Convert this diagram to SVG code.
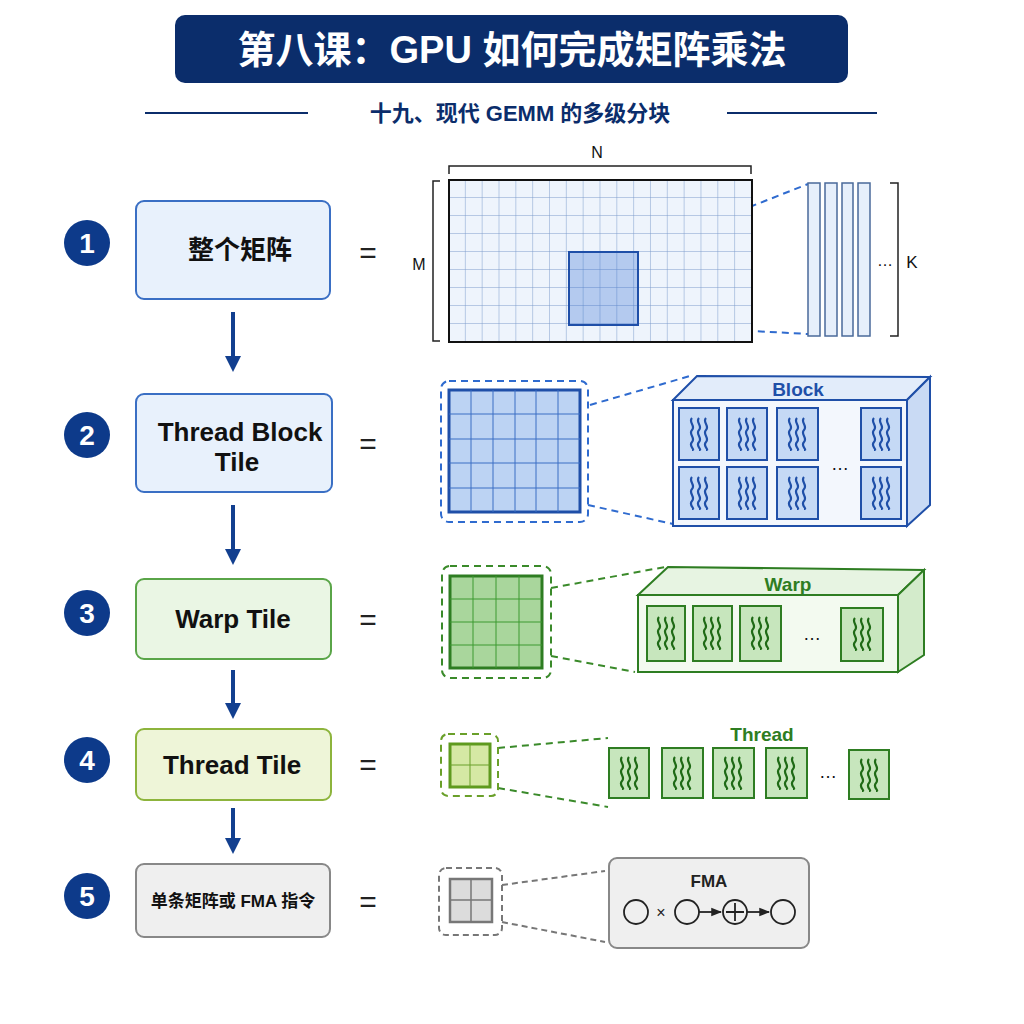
<svg xmlns="http://www.w3.org/2000/svg" width="1024" height="1024" viewBox="0 0 1024 1024">
<defs>
<style>
text{font-family:"Liberation Sans","Noto Sans CJK SC",sans-serif}
.num{fill:#0d3a8a}
.numt{fill:#fff;font-size:28px;font-weight:bold;text-anchor:middle}
.eq{font-size:30px;fill:#222;text-anchor:middle}
.lab{font-size:26px;font-weight:bold;fill:#111;text-anchor:middle}
.arr{stroke:#123f8f;stroke-width:4;fill:none}
.bd{stroke:#2f6bcf;stroke-width:2;stroke-dasharray:7 5;fill:none}
.gd{stroke:#3a8a2a;stroke-width:2;stroke-dasharray:7 5;fill:none}
.yd{stroke:#6aa02a;stroke-width:2;stroke-dasharray:7 5;fill:none}
.kd{stroke:#777;stroke-width:2;stroke-dasharray:6 4;fill:none}
.bc{fill:#c5d9f5;stroke:#1f4fa8;stroke-width:2}
.gc{fill:#c7e6bd;stroke:#2e7d22;stroke-width:2}
.bw{stroke:#1f4fa8;stroke-width:2;fill:none}
.gw{stroke:#1f6a16;stroke-width:2;fill:none}
</style>
<marker id="ah" viewBox="0 0 10 10" refX="5" refY="5" markerWidth="4" markerHeight="4" orient="auto"><path d="M0,0L10,5L0,10z" fill="#123f8f"/></marker>
<marker id="ak" viewBox="0 0 10 10" refX="9" refY="5" markerWidth="6" markerHeight="6" orient="auto"><path d="M0,1L10,5L0,9z" fill="#222"/></marker>
<symbol id="wv" viewBox="0 0 30 40"><path d="M8,4c-4,4 4,8 0,12s4,8 0,12s4,8 0,8M15,4c-4,4 4,8 0,12s4,8 0,12s4,8 0,8M22,4c-4,4 4,8 0,12s4,8 0,12s4,8 0,8" fill="none" stroke="currentColor" stroke-width="2.2"/></symbol>
<pattern id="g18" x="449" y="180" width="16.83" height="18" patternUnits="userSpaceOnUse"><path d="M16.83,0V18M0,18H16.83" stroke="#7d9ccc" stroke-width="1" fill="none"/></pattern>
</defs>
<rect width="1024" height="1024" fill="#fff"/>
<g id="title">
<rect x="175" y="15" width="673" height="68" rx="10" fill="#0b2d6b"/>
<text x="512" y="63" text-anchor="middle" font-size="38" font-weight="bold" fill="#fff">第八课：GPU 如何完成矩阵乘法</text>
<line x1="145" y1="113" x2="308" y2="113" stroke="#0b2d6b" stroke-width="2"/>
<line x1="727" y1="113" x2="877" y2="113" stroke="#0b2d6b" stroke-width="2"/>
<text x="520" y="121" text-anchor="middle" font-size="22" font-weight="bold" fill="#0b2d6b">十九、现代 GEMM 的多级分块</text>
</g>
<g id="nums">
<circle class="num" cx="87" cy="243" r="23"/><text class="numt" x="87" y="253">1</text>
<circle class="num" cx="87" cy="435" r="23"/><text class="numt" x="87" y="445">2</text>
<circle class="num" cx="87" cy="613" r="23"/><text class="numt" x="87" y="623">3</text>
<circle class="num" cx="87" cy="760" r="23"/><text class="numt" x="87" y="770">4</text>
<circle class="num" cx="87" cy="896" r="23"/><text class="numt" x="87" y="906">5</text>
</g>
<g id="n1"><rect x="136" y="201" width="194" height="98" rx="8" fill="#e8f1fc" stroke="#3a6fc4" stroke-width="2"/><text class="lab" x="240" y="259">整个矩阵</text></g>
<g id="n2"><rect x="136" y="394" width="196" height="98" rx="8" fill="#e8f1fc" stroke="#3a6fc4" stroke-width="2"/><text class="lab" x="240" y="441">Thread Block</text><text class="lab" x="237" y="471">Tile</text></g>
<g id="n3"><rect x="136" y="579" width="195" height="80" rx="8" fill="#eaf6e4" stroke="#5aa548" stroke-width="2"/><text class="lab" x="233" y="628">Warp Tile</text></g>
<g id="n4"><rect x="136" y="729" width="195" height="71" rx="8" fill="#eef5d8" stroke="#8db43c" stroke-width="2"/><text class="lab" x="232" y="774">Thread Tile</text></g>
<g id="n5"><rect x="136" y="864" width="194" height="73" rx="8" fill="#efefef" stroke="#888" stroke-width="2"/><text x="233" y="907" text-anchor="middle" font-size="17" font-weight="bold" fill="#111">单条矩阵或 FMA 指令</text></g>
<g id="connectors">
<line class="arr" x1="233" y1="312" x2="233" y2="364" marker-end="url(#ah)"/>
<line class="arr" x1="233" y1="505" x2="233" y2="557" marker-end="url(#ah)"/>
<line class="arr" x1="233" y1="670" x2="233" y2="711" marker-end="url(#ah)"/>
<line class="arr" x1="233" y1="808" x2="233" y2="846" marker-end="url(#ah)"/>
<line class="bd" x1="638" y1="251" x2="808" y2="184"/>
<line class="bd" x1="638" y1="325" x2="808" y2="334"/>
<line class="bd" x1="590" y1="405" x2="690" y2="376"/>
<line class="bd" x1="588" y1="505" x2="673" y2="524"/>
<line class="gd" x1="551" y1="588" x2="665" y2="567"/>
<line class="gd" x1="551" y1="656" x2="635" y2="672"/>
<line class="gd" x1="498" y1="748" x2="608" y2="738"/>
<line class="gd" x1="498" y1="788" x2="608" y2="807"/>
<line class="kd" x1="502" y1="885" x2="605" y2="871"/>
<line class="kd" x1="502" y1="922" x2="605" y2="942"/>
</g>
<g id="eqs">
<text class="eq" x="368" y="263">=</text><text class="eq" x="368" y="454">=</text><text class="eq" x="368" y="630">=</text><text class="eq" x="368" y="775">=</text><text class="eq" x="368" y="912">=</text>
</g>
<g id="matrix">
<path d="M449,174V166H751V174" fill="none" stroke="#222" stroke-width="1.5"/>
<text x="597" y="158" text-anchor="middle" font-size="16" fill="#111">N</text>
<path d="M440,181H433V341H440" fill="none" stroke="#222" stroke-width="1.5"/>
<text x="419" y="270" text-anchor="middle" font-size="16" fill="#111">M</text>
<rect x="449" y="180" width="303" height="162" fill="#eef4fc"/>
<rect x="449" y="180" width="303" height="162" fill="url(#g18)"/>
<rect x="449" y="180" width="303" height="162" fill="none" stroke="#111" stroke-width="2"/>
<rect x="569" y="252" width="69" height="73" fill="#2f6bcf" fill-opacity="0.3" stroke="#1f4fa8" stroke-width="2"/>
<g fill="#e6effb" stroke="#4a6a9a" stroke-width="1.5">
<rect x="808" y="183" width="12" height="153"/><rect x="825" y="183" width="12" height="153"/><rect x="842" y="183" width="11" height="153"/><rect x="858" y="183" width="12" height="153"/>
</g>
<text x="885" y="266" text-anchor="middle" font-size="16" fill="#111">…</text>
<path d="M890,183H898V336H890" fill="none" stroke="#222" stroke-width="1.5"/>
<text x="912" y="268" text-anchor="middle" font-size="17" fill="#111">K</text>
</g>
<g id="blocktile">
<rect class="bd" x="441" y="381" width="147" height="141" rx="8"/>
<rect x="449" y="390" width="131" height="122" fill="#bcd3f3" stroke="#1f4fa8" stroke-width="3"/>
<path d="M471,390V512M493,390V512M515,390V512M536,390V512M558,390V512M449,414H580M449,439H580M449,463H580M449,488H580" stroke="#3a6fc4" stroke-width="1"/>
</g>
<g id="block">
<polygon points="673,400 697,376 930,377 907,400" fill="#e2ecfa" stroke="#1f4fa8" stroke-width="2"/>
<polygon points="907,400 930,377 930,505 907,526" fill="#c9daf4" stroke="#1f4fa8" stroke-width="2"/>
<rect x="673" y="400" width="234" height="126" fill="#f3f7fd" stroke="#1f4fa8" stroke-width="2"/>
<text x="798" y="396" text-anchor="middle" font-size="19" font-weight="bold" fill="#1f4fa8">Block</text>
<g color="#1f4fa8">
<rect class="bc" x="679" y="408" width="40" height="52"/><use href="#wv" x="684" y="414" width="30" height="40"/>
<rect class="bc" x="727" y="408" width="40" height="52"/><use href="#wv" x="732" y="414" width="30" height="40"/>
<rect class="bc" x="777" y="408" width="41" height="52"/><use href="#wv" x="782" y="414" width="30" height="40"/>
<rect class="bc" x="861" y="408" width="40" height="52"/><use href="#wv" x="866" y="414" width="30" height="40"/>
<rect class="bc" x="679" y="467" width="40" height="52"/><use href="#wv" x="684" y="473" width="30" height="40"/>
<rect class="bc" x="727" y="467" width="40" height="52"/><use href="#wv" x="732" y="473" width="30" height="40"/>
<rect class="bc" x="777" y="467" width="41" height="52"/><use href="#wv" x="782" y="473" width="30" height="40"/>
<rect class="bc" x="861" y="467" width="40" height="52"/><use href="#wv" x="866" y="473" width="30" height="40"/>
</g>
<text x="840" y="470" text-anchor="middle" font-size="18" fill="#111">…</text>
</g>
<g id="warptile">
<rect class="gd" x="442" y="566" width="109" height="112" rx="8"/>
<rect x="450" y="576" width="92" height="92" fill="#a9d69c" stroke="#2e7d22" stroke-width="3"/>
<path d="M473,576V668M496,576V668M519,576V668M450,599H542M450,622H542M450,645H542" stroke="#3d9a30" stroke-width="1"/>
</g>
<g id="warp">
<polygon points="638,595 668,567 924,570 898,595" fill="#e7f4e2" stroke="#2e7d22" stroke-width="2"/>
<polygon points="898,595 924,570 924,655 898,672" fill="#d3ebcb" stroke="#2e7d22" stroke-width="2"/>
<rect x="638" y="595" width="260" height="77" fill="#f3faf0" stroke="#2e7d22" stroke-width="2"/>
<text x="788" y="591" text-anchor="middle" font-size="19" font-weight="bold" fill="#2e7d22">Warp</text>
<g color="#1f6a16">
<rect class="gc" x="647" y="606" width="38" height="55"/><use href="#wv" x="651" y="613" width="30" height="40"/>
<rect class="gc" x="693" y="606" width="39" height="55"/><use href="#wv" x="697" y="613" width="30" height="40"/>
<rect class="gc" x="740" y="606" width="41" height="55"/><use href="#wv" x="745" y="613" width="30" height="40"/>
<rect class="gc" x="841" y="608" width="42" height="53"/><use href="#wv" x="847" y="614" width="30" height="40"/>
</g>
<text x="812" y="640" text-anchor="middle" font-size="18" fill="#111">…</text>
</g>
<g id="threadtile">
<rect class="yd" x="441" y="734" width="57" height="62" rx="7"/>
<rect x="450" y="744" width="40" height="43" fill="#d5e8a4" stroke="#5e9a1e" stroke-width="3"/>
<path d="M470,744V787M450,765H490" stroke="#6aa02a" stroke-width="1"/>
</g>
<g id="threads">
<text x="762" y="741" text-anchor="middle" font-size="19" font-weight="bold" fill="#2e7d22">Thread</text>
<g color="#1f6a16">
<rect class="gc" x="609" y="748" width="40" height="50"/><use href="#wv" x="614" y="753" width="30" height="40"/>
<rect class="gc" x="662" y="748" width="41" height="50"/><use href="#wv" x="667" y="753" width="30" height="40"/>
<rect class="gc" x="713" y="748" width="41" height="50"/><use href="#wv" x="718" y="753" width="30" height="40"/>
<rect class="gc" x="766" y="748" width="41" height="50"/><use href="#wv" x="771" y="753" width="30" height="40"/>
<rect class="gc" x="849" y="750" width="40" height="49"/><use href="#wv" x="854" y="755" width="30" height="40"/>
</g>
<text x="828" y="778" text-anchor="middle" font-size="18" fill="#111">…</text>
</g>
<g id="insttile">
<rect class="kd" x="439" y="868" width="63" height="67" rx="7"/>
<rect x="450" y="879" width="42" height="43" fill="#dcdcdc" stroke="#777" stroke-width="2.5"/>
<path d="M471,879V922M450,900H492" stroke="#777" stroke-width="1.5"/>
</g>
<g id="fma">
<rect x="609" y="858" width="200" height="90" rx="8" fill="#efefef" stroke="#888" stroke-width="2"/>
<text x="709" y="887" text-anchor="middle" font-size="17" font-weight="bold" fill="#222">FMA</text>
<g fill="none" stroke="#222" stroke-width="1.8">
<circle cx="636" cy="912" r="12"/><circle cx="687" cy="912" r="12"/><circle cx="735" cy="912" r="12"/><circle cx="783" cy="912" r="12"/>
<path d="M735,903V921M726,912H744"/>
<line x1="699" y1="912" x2="721" y2="912" marker-end="url(#ak)"/>
<line x1="747" y1="912" x2="769" y2="912" marker-end="url(#ak)"/>
</g>
<text x="661" y="918" text-anchor="middle" font-size="16" fill="#222">×</text>
</g>
</svg>
